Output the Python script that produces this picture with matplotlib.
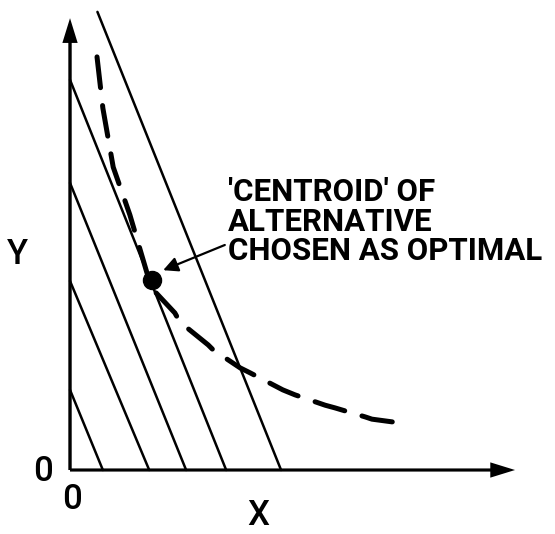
import matplotlib
matplotlib.use("Agg")
import matplotlib.pyplot as plt

# iso-lines: x/a + y/b = 1
x_intercepts = [0.73, 1.76, 2.58, 3.47, 4.69]
y_intercepts = [1.78, 4.20, 6.38, 8.67, 11.70]
y_top = 10.18  # the outer line runs off the top

# dashed trade-off curve
curve_x = [0.60, 0.73, 0.96, 1.33, 1.71, 1.82, 1.89, 2.33, 2.44, 3.07, 3.18, 3.78,
           4.00, 4.73, 5.00, 5.67, 5.89, 6.56, 6.71, 7.38]
curve_y = [9.18, 8.04, 6.73, 5.67, 4.38, 4.22, 3.96, 3.49, 3.29, 2.78, 2.67, 2.27,
           2.16, 1.78, 1.67, 1.44, 1.38, 1.18, 1.13, 1.04]

optimum = (1.82, 4.22)
x_axis_len = 9.89
y_axis_len = 10.04

note = "'CENTROID' OF\nALTERNATIVE\nCHOSEN AS OPTIMAL"

fig = plt.figure(figsize=(5.55, 5.34), dpi=100)
ax = fig.add_axes([0, 0, 1, 1])
ax.set_xlim(-1.556, 10.778)
ax.set_ylim(-1.422, 10.444)
ax.axis("off")

# axes with arrow heads
ax.arrow(0, 0, x_axis_len, 0, width=0.07, head_width=0.34, head_length=0.55,
         length_includes_head=True, color="black", lw=0)
ax.arrow(0, 0, 0, y_axis_len, width=0.075, head_width=0.34, head_length=0.55,
         length_includes_head=True, color="black", lw=0)

for a, b in zip(x_intercepts, y_intercepts):
    yt = min(b, y_top)
    ax.plot([a * (1 - yt / b), a], [yt, 0], color="black", lw=1.8,
            solid_capstyle="round")

ln, = ax.plot(curve_x, curve_y, color="black", lw=3.6, dash_capstyle="round")
ln.set_dashes((6.2, 3.6))

ax.plot(*optimum, "o", color="black", ms=13)

ax.annotate("", xy=(2.07, 4.44), xytext=(3.44, 5.0),
            arrowprops=dict(arrowstyle="-|>", lw=1.6, color="black",
                            mutation_scale=22, shrinkA=0, shrinkB=0))

ax.text(3.51, 6.50, note, ha="left", va="top", fontsize=22.5, linespacing=0.96,
        family="Roboto", fontweight="bold")
lab = dict(ha="center", va="center", fontsize=25, family="Roboto", fontweight="medium")
ax.text(-1.16, 4.78, "Y", **lab)
ax.text(4.18, -1.02, "X", **lab)
ax.text(-0.60, -0.04, "0", **lab)
ax.text(0.04, -0.66, "0", **lab)

fig.savefig("out.png", dpi=100)
